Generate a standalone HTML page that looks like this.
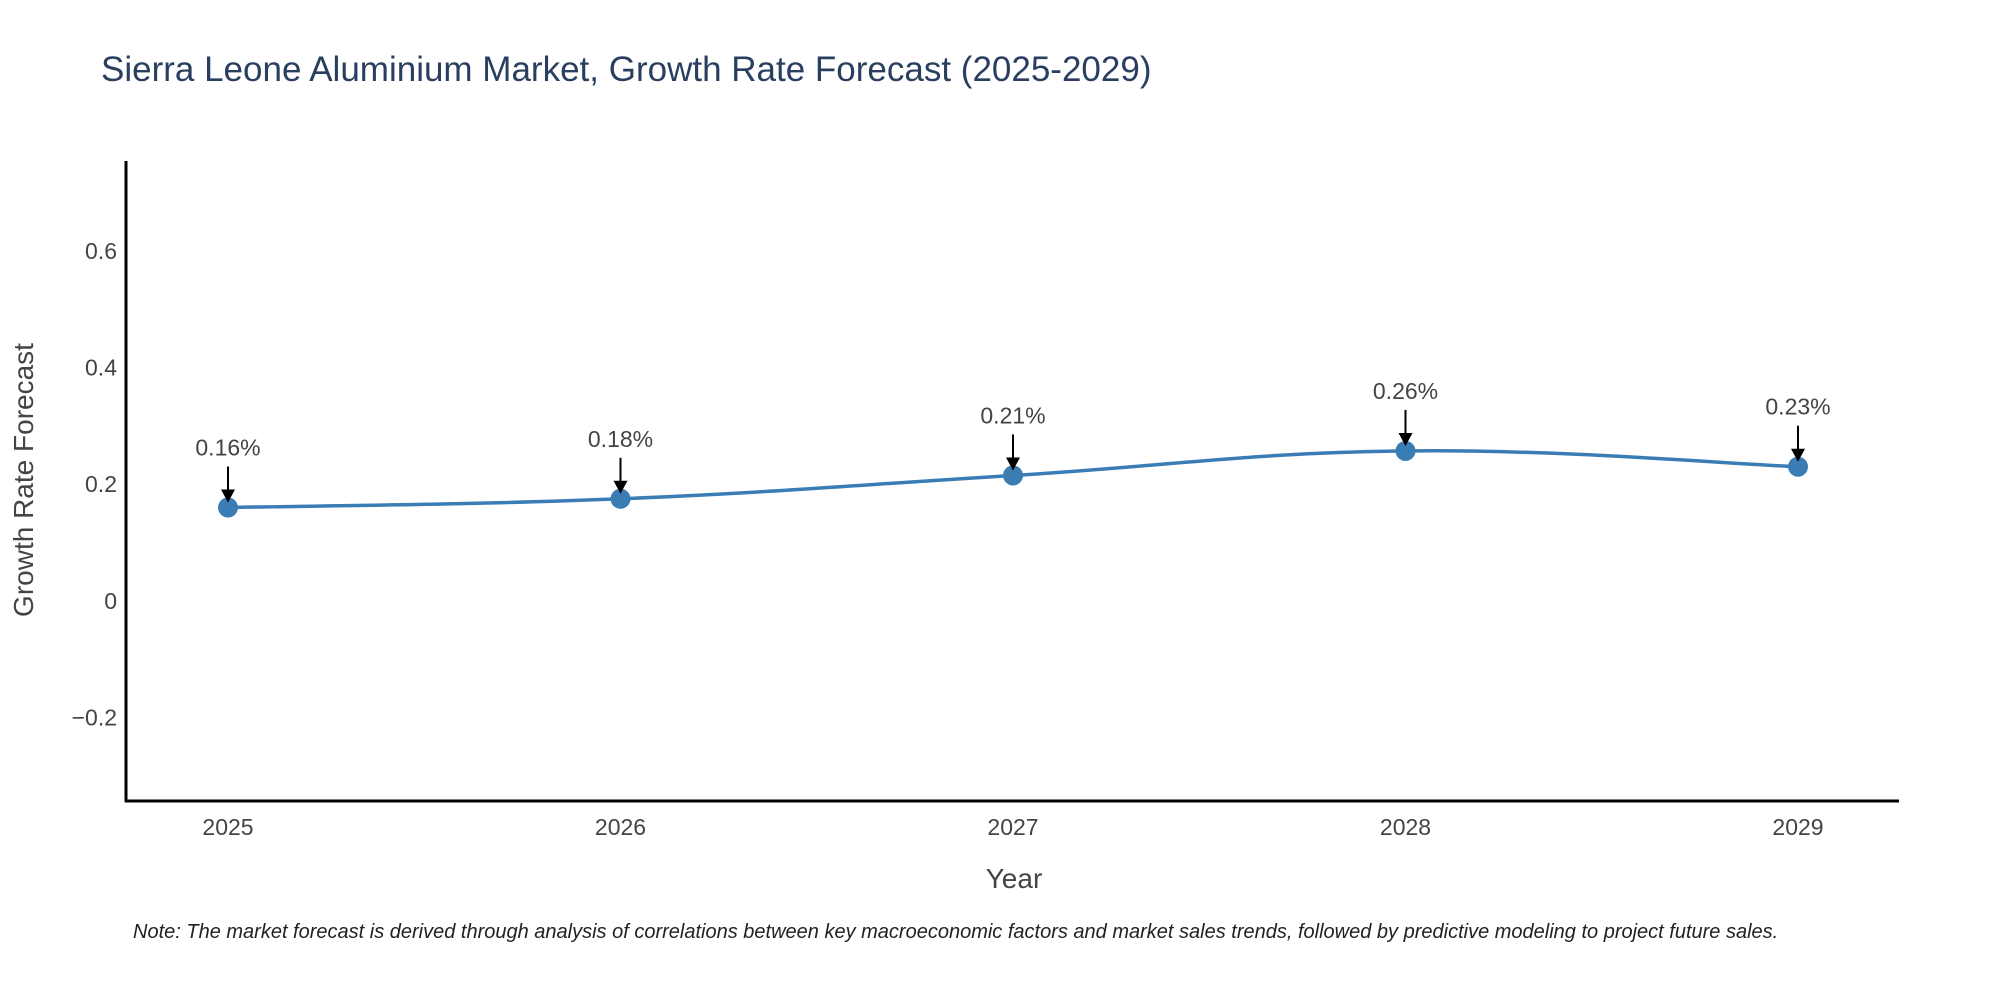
<!DOCTYPE html>
<html><head><meta charset="utf-8"><style>
body{margin:0;background:#fff;}
svg{display:block;font-family:"Liberation Sans",sans-serif;}
</style></head><body>
<svg id="chart" width="2000" height="1000">
<text x="101" y="81" font-size="35" fill="#2a3f5f">Sierra Leone Aluminium Market, Growth Rate Forecast (2025-2029)</text>
<text transform="translate(33,480) rotate(-90)" text-anchor="middle" font-size="28" fill="#444">Growth Rate Forecast</text>
<text x="1014" y="888" text-anchor="middle" font-size="28" fill="#444">Year</text>
<text x="133" y="938" font-size="20" font-style="italic" fill="#222">Note: The market forecast is derived through analysis of correlations between key macroeconomic factors and market sales trends, followed by predictive modeling to project future sales.</text>
<g id="yticks"></g><g id="xticks"></g>
<line x1="126" y1="161" x2="126" y2="802" stroke="#000" stroke-width="3"/>
<line x1="125" y1="801" x2="1899" y2="801" stroke="#000" stroke-width="3"/>
<g id="series"></g>
</svg>
<script>
const years = ["2025","2026","2027","2028","2029"];
const values = [0.16, 0.175, 0.215, 0.257, 0.23];
const labels = ["0.16%","0.18%","0.21%","0.26%","0.23%"];
const yTicks = [-0.2, 0, 0.2, 0.4, 0.6];
const yTickLabels = ["\u22120.2","0","0.2","0.4","0.6"];

const NS="http://www.w3.org/2000/svg";
const x0=228, x1=1798, yMin=-0.343, yMax=0.754, plotTop=161, plotBot=801;
function xs(i){return x0+(x1-x0)*i/(years.length-1);}
function ys(v){return plotBot-(v-yMin)/(yMax-yMin)*(plotBot-plotTop);}
function mk(tag,attrs,parent){const e=document.createElementNS(NS,tag);for(const k in attrs)e.setAttribute(k,attrs[k]);parent.appendChild(e);return e;}

const yt=document.getElementById('yticks');
yTicks.forEach((v,i)=>{
  const t=mk('text',{x:117,y:ys(v)+8,'text-anchor':'end','font-size':23,fill:'#444'},yt);
  
  
  t.textContent=yTickLabels[i];
});
const xt=document.getElementById('xticks');
years.forEach((y,i)=>{
  const t=mk('text',{x:xs(i),y:835,'text-anchor':'middle','font-size':23,fill:'#444'},xt);
  
  
  t.textContent=y;
});

const g=document.getElementById('series');
const pts=values.map((v,i)=>[xs(i),ys(v)]);
let d=`M${pts[0][0]},${pts[0][1]}`;
const s=0.2;
for(let i=0;i<pts.length-1;i++){
  const p0=pts[Math.max(0,i-1)],p1=pts[i],p2=pts[i+1],p3=pts[Math.min(pts.length-1,i+2)];
  const c1=[p1[0]+(p2[0]-p0[0])*s,p1[1]+(p2[1]-p0[1])*s];
  const c2=[p2[0]-(p3[0]-p1[0])*s,p2[1]-(p3[1]-p1[1])*s];
  d+=` C${c1[0]},${c1[1]} ${c2[0]},${c2[1]} ${p2[0]},${p2[1]}`;
}
const line=mk('path',{d:d,fill:'none',stroke:'#3a7db5','stroke-width':3.5},g);


pts.forEach((p,i)=>{
  const c=mk('circle',{cx:p[0],cy:p[1],r:10,fill:'#3a7db5'},g);
  
  
  const a=mk('line',{x1:p[0],y1:p[1]-41,x2:p[0],y2:p[1]-16,stroke:'#000','stroke-width':2},g);
  
  
  const h=mk('polygon',{points:`${p[0]-7},${p[1]-18} ${p[0]+7},${p[1]-18} ${p[0]},${p[1]-5}`,fill:'#000'},g);
  
  
  const t=mk('text',{x:p[0],y:p[1]-52,'text-anchor':'middle','font-size':23,fill:'#444'},g);
  
  
  t.textContent=labels[i];
});
</script>
</body></html>
